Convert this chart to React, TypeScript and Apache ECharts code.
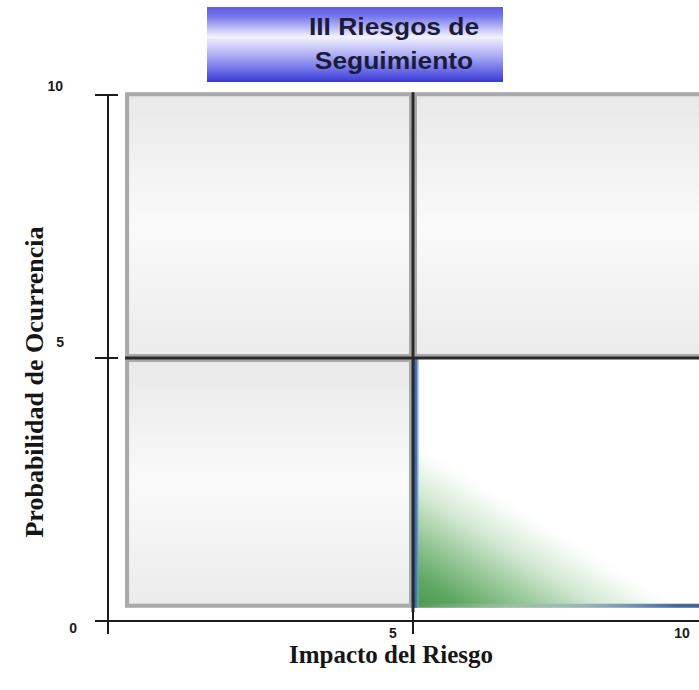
import { useEffect, useRef } from "react";
import * as echarts from "echarts";

const TITLE_LINES = ["III Riesgos de", "Seguimiento"];
const X_NAME = "Impacto del Riesgo";
const Y_NAME = "Probabilidad de Ocurrencia";

const X_TICKS = [0, 5, 10];
const Y_TICKS = [0, 5, 10];

// panel edges along each axis: outer edge, split, outer edge
const X_BOUNDS = [0.28, 5, 10.4];
const Y_BOUNDS = [0.25, 5, 10.05];

// [column, row, zone]; "base" = neutral grey panel, "seguimiento" = highlighted panel
const QUADRANTS: [number, number, string][] = [
  [0, 1, "base"],
  [1, 1, "base"],
  [0, 0, "base"],
  [1, 0, "seguimiento"],
];

// split lines between the panels: [x1, y1, x2, y2]
const SPLIT = 5;
const DIVIDERS = [
  [SPLIT, 0.17, SPLIT, Y_BOUNDS[2]],
  [X_BOUNDS[0], SPLIT, X_BOUNDS[2], SPLIT],
];

const AXIS_COLOR = "#1c1c1c";
const SANS = '"Liberation Sans", Arial, sans-serif';
const SERIF = '"Liberation Serif", "Times New Roman", serif';

const lg = (x: number, y: number, x2: number, y2: number, stops: [number, string][], global = false) =>
  new echarts.graphic.LinearGradient(
    x, y, x2, y2,
    stops.map(([offset, color]) => ({ offset, color })),
    global
  );

function renderQuadrant(params: any, api: any) {
  const zone = QUADRANTS[params.dataIndex][2];
  const tl = api.coord([api.value(0), api.value(3)]);
  const br = api.coord([api.value(1), api.value(2)]);
  const x = tl[0];
  const y = tl[1];
  const w = br[0] - x;
  const h = br[1] - y;

  if (zone === "base") {
    return {
      type: "group",
      children: [
        {
          type: "rect",
          shape: { x, y, width: w, height: h },
          style: {
            fill: lg(0, 0, 0, 1, [
              [0, "#e8e8e8"],
              [0.5, "#fafafa"],
              [1, "#ebebeb"],
            ]),
          },
        },
        {
          type: "rect",
          shape: { x: x + 2, y: y + 2, width: w - 4, height: h - 4 },
          style: { fill: "none", stroke: "#a9a9a9", lineWidth: 4 },
        },
      ],
    };
  }

  // highlighted panel: white with a green wash rising from the lower-left corner
  const cx = x;
  const cy = y + h;
  return {
    type: "group",
    children: [
      { type: "rect", shape: { x, y, width: w, height: h }, style: { fill: "#ffffff" } },
      {
        type: "rect",
        shape: { x, y, width: w, height: h },
        style: {
          fill: lg(
            cx, cy, cx + 0.31 * h, cy - 0.5 * h,
            [
              [0, "#4a984d"],
              [0.18, "#5da560"],
              [0.42, "#93c594"],
              [0.68, "#d3e8d3"],
              [0.88, "#f4faf4"],
              [1, "rgba(255,255,255,0)"],
            ],
            true
          ),
        },
      },
      {
        type: "rect",
        shape: { x: x + 1, y, width: 5, height: h },
        style: {
          fill: lg(0, 0, 1, 0, [
            [0, "#2b5c9c"],
            [0.55, "#4d7db8"],
            [1, "rgba(140,175,220,0.3)"],
          ]),
        },
      },
      {
        type: "rect",
        shape: { x, y: y + h - 4, width: w, height: 4 },
        style: {
          fill: lg(0, 0, 1, 0, [
            [0, "rgba(255,255,255,0)"],
            [0.4, "rgba(150,172,188,0.5)"],
            [0.8, "#41699a"],
            [1, "#345c8b"],
          ]),
        },
      },
    ],
  };
}

function renderDivider(_params: any, api: any) {
  const a = api.coord([api.value(0), api.value(1)]);
  const b = api.coord([api.value(2), api.value(3)]);
  return {
    type: "line",
    shape: { x1: a[0], y1: a[1], x2: b[0], y2: b[1] },
    style: { stroke: "#2a2a2a", lineWidth: 3 },
  };
}

const tickFont = { fontFamily: SANS, fontWeight: "bold" as const, fontSize: 14, color: "#1a1a1a", lineHeight: 15 };

export default function App() {
  const ref = useRef<HTMLDivElement>(null);

  useEffect(() => {
    if (!ref.current) return;
    const chart = echarts.init(ref.current, undefined, { renderer: "svg" });

    const baseX = {
      type: "value" as const,
      min: X_TICKS[0],
      max: X_TICKS[X_TICKS.length - 1],
      interval: 5,
      position: "bottom" as const,
      splitLine: { show: false },
    };
    const baseY = {
      type: "value" as const,
      min: Y_TICKS[0],
      max: Y_TICKS[Y_TICKS.length - 1],
      interval: 5,
      position: "left" as const,
      splitLine: { show: false },
    };

    chart.setOption({
      animation: false,
      backgroundColor: "#ffffff",
      grid: { left: 108, right: -19, top: 95, bottom: 69, containLabel: false, outerBoundsMode: "none" },
      xAxis: [
        {
          ...baseX,
          axisLine: { show: true, onZero: false, lineStyle: { color: AXIS_COLOR, width: 2 } },
          axisTick: { show: true, length: 13, lineStyle: { color: AXIS_COLOR, width: 2 } },
          axisLabel: {
            margin: 4,
            formatter: (v: number) => (v === 0 ? "" : `{t${v}|${v}}`),
            rich: {
              t5: { ...tickFont, padding: [0, 40, 0, 0] },
              t10: { ...tickFont, padding: [0, 72, 0, 0] },
            },
          },
        },
        {
          ...baseX,
          axisLine: { show: false },
          axisTick: { show: true, inside: true, length: 9, lineStyle: { color: AXIS_COLOR, width: 2 } },
          axisLabel: { show: false },
        },
      ],
      yAxis: [
        {
          ...baseY,
          axisLine: { show: true, onZero: false, lineStyle: { color: AXIS_COLOR, width: 2 } },
          axisTick: { show: true, length: 13, lineStyle: { color: AXIS_COLOR, width: 2 } },
          axisLabel: {
            margin: 8,
            align: "right",
            formatter: (v: number) => `{t${v}|${v}}`,
            rich: {
              t0: { ...tickFont, padding: [14, 23, 0, 0] },
              t5: { ...tickFont, padding: [0, 36, 32, 0] },
              t10: { ...tickFont, padding: [0, 37, 18, 0] },
            },
          },
        },
        {
          ...baseY,
          axisLine: { show: false },
          axisTick: { show: true, inside: true, length: 10, lineStyle: { color: AXIS_COLOR, width: 2 } },
          axisLabel: { show: false },
        },
      ],
      series: [
        {
          type: "custom",
          name: "cuadrantes",
          clip: false,
          z: 1,
          renderItem: renderQuadrant,
          data: QUADRANTS.map(([c, r]) => [X_BOUNDS[c], X_BOUNDS[c + 1], Y_BOUNDS[r], Y_BOUNDS[r + 1]]),
        },
        {
          type: "custom",
          name: "divisiones",
          clip: false,
          z: 3,
          renderItem: renderDivider,
          data: DIVIDERS,
        },
      ],
      graphic: [
        {
          type: "group",
          children: [
            {
              type: "rect",
              shape: { x: 207, y: 7, width: 296, height: 75 },
              style: {
                fill: lg(0, 0, 0, 1, [
                  [0, "#5d5de6"],
                  [0.12, "#7474ec"],
                  [0.4, "#f3f3ff"],
                  [0.7, "#9c9cf2"],
                  [0.96, "#4646dc"],
                  [1, "#3a3ac4"],
                ]),
              },
            },
            ...TITLE_LINES.map((line, i) => ({
              type: "text",
              x: 394,
              y: 26 + i * 34,
              scaleX: 1.1,
              style: {
                text: line,
                font: `bold 24px ${SANS}`,
                fill: "#1b1b3a",
                align: "center",
                verticalAlign: "middle",
              },
            })),
          ],
        },
        {
          type: "text",
          x: 391,
          y: 654,
          style: {
            text: X_NAME,
            font: `bold 25px ${SERIF}`,
            fill: "#161616",
            align: "center",
            verticalAlign: "middle",
          },
        },
        {
          type: "text",
          x: 34,
          y: 382,
          rotation: Math.PI / 2,
          style: {
            text: Y_NAME,
            font: `bold 26px ${SERIF}`,
            fill: "#161616",
            align: "center",
            verticalAlign: "middle",
          },
        },
      ],
    });

    return () => chart.dispose();
  }, []);

  return <div ref={ref} style={{ position: "absolute", left: 0, top: 0, width: 699, height: 690 }} />;
}
